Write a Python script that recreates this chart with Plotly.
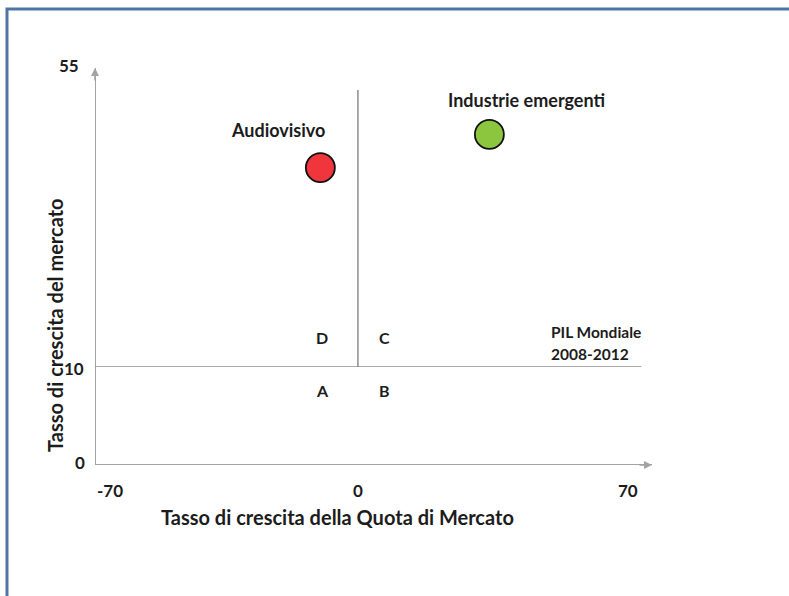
import plotly.graph_objects as go

# Bubbles: market-share growth (x) vs. market growth (y)
sectors = ["Audiovisivo", "Industrie emergenti"]
share_growth = [-10, 35]
market_growth = [40, 45]
bubble_colors = ["#f0363c", "#8cc63f"]

# Axis limits and reference line
x_min, x_max = -70, 70
y_min, y_split, y_max = 0, 10, 55
pil_label = ["PIL Mondiale", "2008-2012"]
quadrants_top = ["D", "C"]
quadrants_bottom = ["A", "B"]
x_ticks = [-70, 0, 70]

FONT = "Lato, Roboto, 'Open Sans', sans-serif"
TXT = "#1c1c1c"
AXIS_GRAY = "#a3a3a3"
LINE_GRAY = "#8c8c8c"

# Two stacked y bands: 0-10 (lower) and 10-55 (upper)
lower_frac = 98 / 397

fig = go.Figure()
fig.add_trace(go.Scatter(
    x=share_growth, y=market_growth, xaxis="x", yaxis="y2",
    mode="markers",
    marker=dict(size=29, color=bubble_colors, line=dict(color="#111111", width=1.8)),
    hoverinfo="text", text=sectors, showlegend=False,
))

shapes = [
    # x axis line
    dict(type="line", xref="x", yref="y", x0=x_min, x1=78.3, y0=y_min, y1=y_min,
         line=dict(color=AXIS_GRAY, width=2)),
    # y axis line (spans both bands)
    dict(type="line", xref="x", yref="paper", x0=x_min, x1=x_min, y0=0, y1=1,
         line=dict(color=AXIS_GRAY, width=2)),
    # world GDP reference line at y = 10
    dict(type="line", xref="x", yref="y2", x0=x_min, x1=75.5, y0=y_split, y1=y_split,
         line=dict(color=LINE_GRAY, width=1.5)),
    # vertical divider at x = 0
    dict(type="line", xref="x", yref="y2", x0=0, x1=0, y0=-4.75, y1=51.7,
         line=dict(color=LINE_GRAY, width=1.5)),
    # page frame
    dict(type="path", xref="paper", yref="paper",
         path="M -0.158,-0.4 L -0.158,1.1486 L 1.3,1.1486",
         line=dict(color="#4f74aa", width=3)),
]

annotations = []
# arrowheads
annotations.append(dict(x=78.3, y=y_min, xref="x", yref="y", ax=-14, ay=0,
                        showarrow=True, arrowhead=2, arrowsize=1, arrowwidth=1.6,
                        arrowcolor=AXIS_GRAY, text=""))
annotations.append(dict(x=x_min, y=y_max, xref="x", yref="y2", ax=0, ay=14,
                        showarrow=True, arrowhead=2, arrowsize=1, arrowwidth=1.6,
                        arrowcolor=AXIS_GRAY, text=""))

# bubble labels
label_shift = [(-42, 38), (37, 34)]
for name, xv, yv, (dx, dy) in zip(sectors, share_growth, market_growth, label_shift):
    annotations.append(dict(x=xv, y=yv, xref="x", yref="y2", text=name, showarrow=False,
                            xshift=dx, yshift=dy,
                            font=dict(family=FONT, size=18, color=TXT, weight="bold")))

# quadrant letters
for letter, xv in zip(quadrants_top, [-9.5, 7]):
    annotations.append(dict(x=xv, y=14.4, xref="x", yref="y2", text=letter, showarrow=False,
                            font=dict(family=FONT, size=16, color=TXT, weight="bold")))
for letter, xv in zip(quadrants_bottom, [-9.5, 7]):
    annotations.append(dict(x=xv, y=7.6, xref="x", yref="y", text=letter, showarrow=False,
                            font=dict(family=FONT, size=16, color=TXT, weight="bold")))

# reference line label
for line_txt, yv in zip(pil_label, [15.3, 12.0]):
    annotations.append(dict(x=51.0, y=yv, xref="x", yref="y2", text=line_txt, showarrow=False,
                            xanchor="left",
                            font=dict(family=FONT, size=15.5, color=TXT, weight="bold")))

# x tick labels
x_anchor = ["left", "center", "center"]
x_off = [0, 0, 7]
for xv, anc, off in zip(x_ticks, x_anchor, x_off):
    annotations.append(dict(x=xv, y=y_min, xref="x", yref="y", text=str(xv), showarrow=False,
                            xanchor=anc, yanchor="middle", yshift=-25, xshift=off,
                            font=dict(family=FONT, size=17, color=TXT, weight="bold")))

# y tick labels
annotations.append(dict(x=x_min, y=y_min, xref="x", yref="y", text=str(y_min), showarrow=False,
                        xanchor="right", xshift=-8, yshift=3,
                        font=dict(family=FONT, size=17, color=TXT, weight="bold")))
annotations.append(dict(x=x_min, y=y_split, xref="x", yref="y", text=str(y_split), showarrow=False,
                        xanchor="right", xshift=-9, yshift=-1,
                        font=dict(family=FONT, size=17, color=TXT, weight="bold")))
annotations.append(dict(x=x_min, y=y_max, xref="x", yref="y2", text=str(y_max), showarrow=False,
                        xanchor="right", xshift=-14, yshift=3,
                        font=dict(family=FONT, size=17, color=TXT, weight="bold")))

# axis titles
annotations.append(dict(x=0.4345, y=-0.131, xref="paper", yref="paper",
                        xanchor="center", yanchor="middle",
                        text="Tasso di crescita della Quota di Mercato", showarrow=False,
                        font=dict(family=FONT, size=20, color=TXT, weight="bold")))
annotations.append(dict(x=-0.0718, y=0.3526, xref="paper", yref="paper",
                        xanchor="center", yanchor="middle",
                        text="Tasso di crescita del mercato", showarrow=False, textangle=-90,
                        font=dict(family=FONT, size=20, color=TXT, weight="bold")))

fig.update_layout(
    width=789, height=596,
    margin=dict(l=95, r=137, t=68, b=131),
    paper_bgcolor="white", plot_bgcolor="rgba(0,0,0,0)",
    xaxis=dict(range=[x_min, 78.3], visible=False, anchor="y", fixedrange=True),
    yaxis=dict(range=[y_min, y_split], domain=[0, lower_frac], visible=False, anchor="x"),
    yaxis2=dict(range=[y_split, y_max], domain=[lower_frac, 1], visible=False, anchor="x"),
    shapes=shapes,
    annotations=annotations,
    showlegend=False,
)

fig.write_html("out.html")
